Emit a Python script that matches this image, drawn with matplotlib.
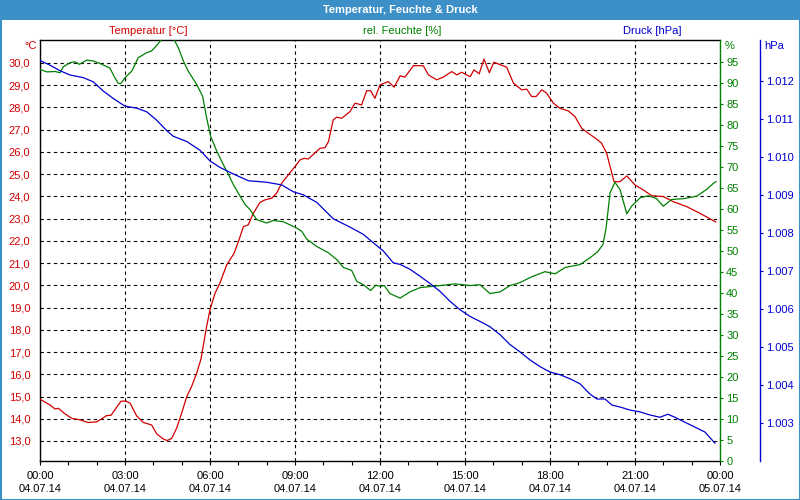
import matplotlib
matplotlib.use("Agg")
import matplotlib.pyplot as plt
from matplotlib.patches import Rectangle
from matplotlib.ticker import FixedLocator, FuncFormatter, MultipleLocator

# ---------------- data (hours since 04.07.14 00:00) ----------------
temp_t = [0.00, 0.35, 0.53, 0.65, 0.88, 1.12, 1.41, 1.70, 2.00, 2.18, 2.35, 2.51, 2.68, 2.86,
          3.04, 3.18, 3.41, 3.65, 3.94, 4.12, 4.35, 4.49, 4.65, 4.82, 5.00, 5.18, 5.35, 5.53,
          5.68, 5.88, 6.00, 6.18, 6.35, 6.59, 6.85, 7.03, 7.18, 7.35, 7.53, 7.76, 7.94, 8.18,
          8.35, 8.53, 8.76, 9.00, 9.18, 9.32, 9.47, 9.88, 10.06, 10.18, 10.35, 10.47, 10.65,
          10.94, 11.12, 11.35, 11.53, 11.67, 11.82, 12.00, 12.29, 12.50, 12.71, 12.88, 13.18,
          13.53, 13.71, 14.00, 14.23, 14.53, 14.71, 14.88, 15.18, 15.32, 15.50, 15.67, 15.86,
          16.02, 16.24, 16.47, 16.71, 17.00, 17.18, 17.35, 17.51, 17.71, 17.88, 18.12, 18.35,
          18.65, 18.88, 19.12, 19.35, 19.65, 19.82, 20.00, 20.12, 20.26, 20.47, 20.71, 21.00,
          21.29, 21.59, 22.00, 22.35, 22.82, 23.29, 23.76, 23.85]
temp_v = [14.88, 14.62, 14.44, 14.47, 14.22, 14.02, 13.95, 13.83, 13.86, 14.00, 14.14, 14.16, 14.47, 14.79,
          14.79, 14.70, 14.13, 13.83, 13.72, 13.32, 13.09, 13.02, 13.12, 13.57, 14.25, 15.00, 15.45, 16.05,
          16.68, 18.14, 18.90, 19.65, 20.10, 20.92, 21.44, 22.07, 22.64, 22.72, 23.24, 23.72, 23.84, 23.92,
          24.14, 24.59, 24.96, 25.34, 25.64, 25.71, 25.68, 26.16, 26.19, 26.46, 27.44, 27.56, 27.51,
          27.81, 28.19, 28.11, 28.75, 28.75, 28.41, 29.01, 29.16, 28.91, 29.42, 29.36, 29.88,
          29.87, 29.46, 29.24, 29.36, 29.61, 29.46, 29.58, 29.38, 29.69, 29.51, 30.17, 29.56,
          30.03, 29.92, 29.81, 29.09, 28.79, 28.82, 28.49, 28.49, 28.79, 28.64, 28.19, 27.96,
          27.84, 27.59, 27.06, 26.84, 26.57, 26.39, 25.94, 25.34, 24.66, 24.66, 24.92, 24.51,
          24.29, 24.03, 23.99, 23.76, 23.54, 23.24, 22.91, 22.85]

hum_t = [0.00, 0.24, 0.53, 0.71, 0.82, 1.06, 1.24, 1.39, 1.65, 1.88, 2.12, 2.47, 2.61, 2.76, 2.85,
         3.00, 3.24, 3.47, 3.77, 3.94, 4.12, 4.33, 4.70, 4.88, 5.06, 5.23, 5.53, 5.74, 5.88, 6.02,
         6.24, 6.47, 6.65, 6.82, 7.06, 7.24, 7.41, 7.65, 8.00, 8.24, 8.59, 9.06, 9.24, 9.41, 9.77,
         10.18, 10.47, 10.71, 11.00, 11.18, 11.41, 11.67, 11.85, 12.00, 12.15, 12.35, 12.71, 13.06,
         13.41, 14.12, 14.65, 15.18, 15.53, 15.88, 16.24, 16.59, 16.94, 17.36, 17.82, 18.18, 18.53,
         19.06, 19.41, 19.69, 19.87, 19.98, 20.12, 20.29, 20.47, 20.71, 20.88, 21.18, 21.47, 21.76,
         22.00, 22.29, 22.71, 23.18, 23.53, 23.76, 23.86]
hum_v = [93.3, 92.7, 92.8, 92.5, 93.9, 94.9, 95.1, 94.5, 95.5, 95.3, 94.7, 93.6, 91.7, 90.0, 89.9,
         91.3, 92.9, 96.1, 97.3, 97.7, 99.0, 100.8, 100.8, 98.5, 95.3, 92.9, 89.7, 86.9, 81.8, 77.4,
         73.8, 70.6, 68.3, 65.9, 63.1, 61.1, 59.9, 57.5, 56.7, 57.3, 57.0, 55.5, 54.7, 52.9, 51.1,
         49.6, 48.0, 46.1, 45.4, 42.8, 42.0, 40.6, 41.9, 41.6, 41.8, 39.9, 38.8, 40.3,
         41.3, 41.8, 42.2, 41.8, 42.0, 39.9, 40.3, 41.8, 42.5, 43.9, 45.1, 44.6, 46.1,
         46.8, 48.4, 49.9, 51.6, 55.5, 63.9, 66.4, 64.7, 58.9, 60.7, 62.7, 63.2, 62.5,
         60.7, 62.3, 62.5, 63.1, 64.7, 66.1, 66.6]

pres_t = [0.00, 0.35, 0.71, 1.06, 1.53, 1.88, 2.23, 2.59, 3.00, 3.41, 3.77, 4.12, 4.47, 4.70, 5.18,
          5.65, 6.00, 6.35, 6.82, 7.35, 8.00, 8.53, 8.94, 9.29, 9.77, 10.35, 10.94, 11.41, 11.76,
          12.12, 12.47, 12.71, 13.06, 13.41, 13.76, 14.12, 14.47, 14.82, 15.18, 15.53, 15.88,
          16.24, 16.59, 16.94, 17.29, 17.65, 18.00, 18.35, 18.71, 19.06, 19.41, 19.66, 19.94,
          20.19, 20.47, 20.82, 21.18, 21.53, 21.88, 22.16, 22.41, 22.76, 23.12, 23.47, 23.82]
pres_v = [1.01254, 1.01242, 1.01227, 1.01216, 1.01209, 1.01198, 1.01174, 1.01154, 1.01134, 1.01129,
          1.01119, 1.01097, 1.01070, 1.01055, 1.01041, 1.01018, 1.00990, 1.00973, 1.00956, 1.00938,
          1.00934, 1.00927, 1.00909, 1.00901, 1.00881, 1.00838, 1.00816, 1.00797, 1.00775,
          1.00753, 1.00722, 1.00718, 1.00705, 1.00687, 1.00668, 1.00647, 1.00621, 1.00599,
          1.00581, 1.00568, 1.00554, 1.00533, 1.00507, 1.00488, 1.00467, 1.00449, 1.00435,
          1.00428, 1.00417, 1.00404, 1.00377, 1.00364, 1.00364, 1.00348, 1.00343, 1.00335,
          1.00330, 1.00322, 1.00316, 1.00324, 1.00316, 1.00303, 1.00290, 1.00277, 1.00248]

x_ticks = [0, 3, 6, 9, 12, 15, 18, 21, 24]
x_labels = ["00:00\n04.07.14", "03:00\n04.07.14", "06:00\n04.07.14", "09:00\n04.07.14",
            "12:00\n04.07.14", "15:00\n04.07.14", "18:00\n04.07.14", "21:00\n04.07.14",
            "00:00\n05.07.14"]
temp_ticks = list(range(13, 31))
hum_ticks = list(range(0, 100, 5))
pres_ticks = [1.003, 1.004, 1.005, 1.006, 1.007, 1.008, 1.009, 1.010, 1.011, 1.012]

title = "Temperatur, Feuchte & Druck"

# ---------------- style ----------------
RED = "#d00000"
GREEN = "#008000"
BLUE = "#0000d0"
BAR = "#3d8fc8"
FONT = "Liberation Sans"
FS = 8

plt.rcParams["font.family"] = [FONT, "DejaVu Sans"]

fig = plt.figure(figsize=(8, 5), dpi=100)
fig.patch.set_facecolor("white")

W, H = 800.0, 500.0
L, R, T, B = 40, 720, 40, 461
ax = fig.add_axes([L / W, 1 - B / H, (R - L) / W, (B - T) / H])
ax.set_facecolor("white")

# title bar & frame
fig.patches.append(Rectangle((0, 1 - 20 / H), 1, 20 / H, transform=fig.transFigure,
                             facecolor=BAR, edgecolor="none", zorder=0))
fig.patches.append(Rectangle((0.5 / W, 0.5 / H), 1 - 1 / W, 1 - 1 / H, transform=fig.transFigure,
                             facecolor="none", edgecolor=BAR, lw=1.5, zorder=5))
fig.text(0.5, 1 - 10 / H, title, color="white", fontsize=8, fontweight="bold",
         ha="center", va="center")

# temperature axis
ax.plot(temp_t, temp_v, color=RED, lw=0.9, zorder=3)
ax.set_xlim(0, 24)
ax.set_ylim(12.10, 31.03)
ax.yaxis.set_major_locator(FixedLocator(temp_ticks))
ax.yaxis.set_major_formatter(FuncFormatter(lambda v, p: f"{v:.1f}".replace(".", ",")))
ax.tick_params(axis="y", length=0, pad=7, labelcolor=RED, labelsize=FS)
ax.set_xticks(x_ticks)
ax.set_xticklabels(x_labels, fontsize=FS, linespacing=1.45)
ax.xaxis.set_minor_locator(MultipleLocator(1))
ax.tick_params(axis="x", which="both", length=3, width=0.8, direction="out", pad=4,
               colors="black")
ax.grid(True, which="major", color="black", linestyle=(0, (3, 3)), linewidth=0.8)
for s in ("left", "top", "bottom"):
    ax.spines[s].set_color("black")
    ax.spines[s].set_linewidth(1.0)
ax.spines["right"].set_visible(False)

# humidity axis
ax2 = ax.twinx()
ax2.plot(hum_t, hum_v, color=GREEN, lw=0.9, zorder=3)
ax2.set_ylim(0, 100.3)
ax2.yaxis.set_major_locator(FixedLocator(hum_ticks))
ax2.yaxis.set_major_formatter(FuncFormatter(lambda v, p: f"{v:.0f}"))
ax2.tick_params(axis="y", length=2.5, width=0.8, color=GREEN, labelcolor=GREEN, pad=2,
                labelsize=FS)
for s in ("left", "top", "bottom"):
    ax2.spines[s].set_visible(False)
ax2.spines["right"].set_color(GREEN)
ax2.spines["right"].set_linewidth(1.0)

# pressure axis
ax3 = ax.twinx()
ax3.plot(pres_t, pres_v, color=BLUE, lw=0.9, zorder=3)
ax3.set_ylim(1.00201, 1.01308)
ax3.spines["right"].set_position(("axes", 1 + 40 / (R - L)))
ax3.yaxis.set_major_locator(FixedLocator(pres_ticks))
ax3.yaxis.set_major_formatter(FuncFormatter(lambda v, p: f"{v:.3f}"))
ax3.tick_params(axis="y", length=2.5, width=0.8, color=BLUE, labelcolor=BLUE, pad=2,
                labelsize=FS)
for s in ("left", "top", "bottom"):
    ax3.spines[s].set_visible(False)
ax3.spines["right"].set_color(BLUE)
ax3.spines["right"].set_linewidth(1.0)

# header texts
yh = 1 - 31 / H
fig.text(148 / W, yh, "Temperatur [°C]", color=RED, fontsize=FS, ha="center", va="center")
fig.text(402 / W, yh, "rel. Feuchte [%]", color=GREEN, fontsize=FS, ha="center", va="center")
fig.text(652 / W, yh, "Druck [hPa]", color=BLUE, fontsize=FS, ha="center", va="center")
yu = 1 - 46 / H
fig.text(37 / W, yu, "°C", color=RED, fontsize=FS, ha="right", va="center")
fig.text(725 / W, yu, "%", color=GREEN, fontsize=FS, ha="left", va="center")
fig.text(764 / W, yu, "hPa", color=BLUE, fontsize=FS, ha="left", va="center")

fig.savefig("out.png", dpi=100)
